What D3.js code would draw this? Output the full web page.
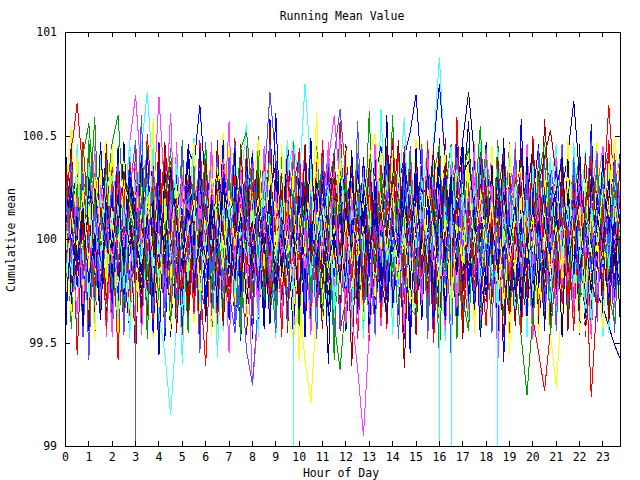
<!DOCTYPE html>
<html>
<head>
<meta charset="utf-8">
<script src="https://cdn.jsdelivr.net/npm/d3@7"></script>
<style>
body { margin: 0; background: #fff; }
text { font-family: "DejaVu Sans Mono", monospace; font-size: 11.5px; fill: #000; }
</style>
</head>
<body>
<svg id="chart"></svg>
<script>
var hourTicks = [0,1,2,3,4,5,6,7,8,9,10,11,12,13,14,15,16,17,18,19,20,21,22,23];
var meanTicks = [99, 99.5, 100, 100.5, 101];
var lineColors = ['#ff0000','#00a000','#0000ff','#ff40ff','#40ffff','#a00000','#ffff00','#0000a0','#5050ff'];

// one value per quarter hour, as offset from 100 in hundredths (-10000 = reading of 0)
var red1 = [18,42,66,31,-8,22,-14,9,35,-3,-27,6,
  24,-11,13,-30,-6,17,38,2,-19,28,7,-22,
  -35,4,26,-9,14,-28,-2,33,11,-17,21,40,
  3,-24,15,-38,-12,8,29,-5,19,-21,36,12,
  -7,25,-18,4,-33,16,37,-1,22,-26,-8,30,
  9,-15,27,-20,-39,1,18,-11,34,5,-23,14,
  32,-6,20,43,10,-19,7,-30,24,-2,-36,11,
  -13,21,3,36,-9,-25,15,-4,28,44,6,-17];
var green1 = [-22,8,-5,30,12,-16,24,-31,3,19,-9,27,
  -4,-29,10,-41,6,23,-13,35,-8,14,-26,2,
  31,7,-18,25,-3,-34,12,-10,28,-21,4,-37,
  -6,20,-15,33,9,-24,17,-2,26,-12,-40,-63,
  -28,5,-19,22,-7,13,-32,1,29,-14,18,-4,
  -23,11,-36,6,24,-9,35,-17,2,-30,15,-1,
  27,-12,4,-25,19,38,-6,14,-20,8,-33,10,
  23,-3,37,12,-15,26,-28,0,17,-10,31,-19];
var blue1 = [33,-2,21,-19,8,-30,16,40,-7,25,-14,4,
  28,-9,13,-36,-5,19,-22,30,11,44,36,65,
  24,-13,9,-27,17,-41,3,22,-6,31,-18,7,
  -11,26,-3,14,-33,5,-20,29,1,-16,34,10,
  -24,12,-8,39,2,-15,23,-29,6,18,-4,32,
  15,-21,7,-37,27,-10,20,-3,-26,9,-12,35,
  -5,16,-31,8,-19,24,1,37,-14,11,-25,3,
  19,-8,30,-17,5,-28,13,22,-9,38,14,-6];
var magenta1 = [-12,15,2,26,-20,7,-33,19,-4,31,12,47,
  70,28,41,16,69,22,-6,13,-27,4,-15,21,
  -9,18,-30,6,-1,29,-17,24,-8,11,-35,3,
  25,-13,8,-26,17,-39,4,32,-10,14,-22,0,
  -16,27,-5,20,-29,9,-3,36,15,-18,6,-31,
  -20,12,-7,34,-14,3,-40,18,-2,26,-11,9,
  -27,5,21,-9,39,13,-16,30,-23,2,17,-6,
  11,-24,7,-13,28,-1,20,43,-5,16,-29,8];
var cyan1 = [4,-19,13,-28,21,6,-11,27,-24,9,-3,32,
  16,45,71,30,-2,18,-21,7,-34,24,3,-15,
  11,-26,19,-8,35,2,-17,28,-5,-31,14,-9,
  22,-4,30,48,27,75,36,5,-12,20,-27,13,
  29,-8,16,-23,1,-35,10,25,-14,6,-30,19,
  -3,24,12,46,88,33,-9,17,-25,8,-16,28,
  14,-20,3,-37,21,-6,34,9,-13,26,-22,1,
  18,-7,31,-18,5,-29,15,-2,37,10,-11,-24];
var darkred1 = [16,-9,29,-4,11,-27,3,22,-15,34,7,-20,
  -6,-31,12,-17,24,1,19,-12,30,-36,-2,15,
  26,-5,37,8,-22,14,-28,6,-10,21,2,-33,
  -18,9,-3,27,40,-7,16,-24,5,-14,23,11,
  -1,-25,18,-38,7,-13,28,-4,20,-19,-32,3,
  13,31,-6,17,-28,4,-15,25,39,-2,10,-23,
  -30,6,-12,24,-5,15,-21,-37,2,-9,20,33,
  8,-16,26,-11,19,35,-3,12,-26,-8,4,-19];
var yellow1 = [-7,20,1,33,-12,9,-25,17,39,-4,28,-16,
  5,-30,14,-21,26,-3,36,11,-18,7,-9,23,
  2,45,19,52,6,-14,27,-24,10,37,-7,15,
  -20,4,-36,-48,-30,-58,-79,-33,-11,18,-2,29,
  40,-5,16,-27,8,-19,24,3,-13,30,-34,6,
  -15,22,35,9,47,-8,13,-26,4,20,-3,31,
  -11,7,-32,17,-4,26,38,-10,12,-22,3,-29,
  16,-6,27,-13,2,-35,11,21,-17,8,34,-1];
var darkblue1 = [21,-8,12,-29,4,-37,15,-2,30,-14,7,24,
  -10,17,-3,38,9,-20,26,-31,1,14,-6,33,
  11,-23,5,-35,18,-12,29,-1,22,-9,3,-26,
  -14,19,2,31,-7,24,-18,9,-29,36,13,28,
  -2,-17,20,-6,14,-25,7,32,-12,-30,4,-10,
  16,-3,27,-15,8,-21,34,22,48,71,40,10,
  -6,25,-19,3,-33,17,0,29,-11,6,-24,13,
  -8,24,41,67,30,2,19,-14,11,-5,26,7];
var lightblue1 = [-16,9,-4,27,3,-21,14,-30,6,19,-8,12,
  -10000,-12,21,-25,10,-2,32,7,-17,24,-28,1,
  15,-7,30,5,-19,26,-11,2,-33,18,9,-3,
  23,-14,4,-31,13,-5,35,-20,8,-12,20,-38,
  6,28,-9,17,-24,1,11,-16,25,39,-4,14,
  -19,3,-27,10,22,-13,7,-34,16,-1,29,-8,
  31,-6,18,-22,2,12,-3,37,-15,21,-9,-26,
  4,-18,26,-7,15,-30,9,-11,23,-2,17,33];
var red2 = [-26,11,-7,24,-19,3,-34,16,1,28,-10,36,
  8,-21,19,-4,30,-15,5,-27,12,-40,2,-13,
  22,-3,14,-25,7,-9,26,-16,38,4,-20,10,
  -31,0,17,-12,29,-6,21,-35,9,-2,24,13,
  35,-11,6,-28,18,2,-17,27,-5,15,-33,8,
  20,-4,37,11,-23,14,-7,-30,5,25,-12,3,
  -18,16,-1,31,-9,22,-26,6,-38,-55,-73,-44,
  -14,19,-3,28,7,-22,12,-8,33,-16,4,-29];
var green2 = [27,-6,15,-20,4,32,-11,21,47,60,13,-8,
  18,-25,7,-14,24,-2,35,10,-29,3,-17,22,
  -5,30,-12,16,-34,6,-21,1,26,-9,12,-27,
  -3,19,-16,33,8,-24,14,-7,28,-36,5,17,
  -10,23,-30,2,-41,11,-4,29,-15,9,-22,20,
  6,-13,36,16,-5,25,-18,3,31,44,14,55,
  0,21,-9,12,-31,-18,-47,-75,-36,9,-14,25,
  -2,28,-11,7,-24,15,30,-6,19,-27,-40,4];
var blue2 = [-32,7,-15,22,-3,29,-26,13,2,-18,31,-8,
  14,-20,6,-45,18,-11,25,-1,9,-34,16,-23,
  3,27,-9,38,11,-16,4,-30,20,35,-5,12,
  -22,8,-13,19,-2,30,-27,1,-37,15,-7,24,
  10,36,-4,21,-18,5,-28,17,-6,26,40,52,
  70,31,12,44,75,38,-3,20,-16,6,-29,11,
  28,-10,15,-24,2,-35,9,-12,23,-1,17,-20,
  5,-17,33,10,-6,25,-21,0,-13,29,-4,14];
var magenta2 = [19,-14,8,-27,1,24,-9,33,6,-20,15,-31,
  -3,22,-17,11,28,-6,13,-36,4,-12,25,9,
  30,-8,18,-23,2,27,-14,12,-71,-35,5,-19,
  14,-2,29,-11,7,-32,20,-5,17,38,60,26,
  -4,16,-21,3,-30,13,-7,31,10,-15,24,-9,
  12,-26,37,5,-12,19,-2,-34,8,21,-17,28,
  -7,15,-29,4,26,-10,35,1,-19,11,-33,6,
  20,-5,30,9,-22,14,-38,-3,18,-11,27,40];
var cyan2 = [9,-17,30,4,-22,16,-5,25,-13,2,19,-28,
  -7,14,-24,6,-36,-55,-85,-41,-8,21,-3,12,
  27,-10,18,-29,5,-16,33,1,-20,23,-6,15,
  -25,8,-12,-10000,3,-19,26,-2,13,-31,7,-14,
  20,-4,32,-9,16,-27,2,24,-11,37,-3,10,
  -21,6,-15,28,-1,17,-10000,-8,22,-13,9,31,
  -16,4,-33,12,-6,29,14,-23,1,19,-9,-30,
  11,-2,25,-18,7,-39,15,3,-12,27,-7,18];
var darkred2 = [-9,23,5,-18,31,-6,14,-29,2,20,-12,8,
  -24,10,-37,4,-15,26,1,17,-21,7,-32,13,
  19,-3,28,-14,-31,6,-8,24,11,39,-5,16,
  -11,21,-26,9,-2,32,15,-19,3,-35,12,-7,
  25,-1,18,-23,7,-29,13,-10,30,-4,20,-33,
  2,-16,27,8,41,-6,16,-22,4,-13,24,10,
  -5,29,-18,11,-2,22,37,-9,14,26,40,53,
  31,-4,17,-20,6,-12,-34,3,-25,9,-7,22];
var yellow2 = [13,-10,26,-3,17,-22,35,48,8,-15,20,-6,
  -27,4,-12,23,-1,30,-18,9,-38,14,-5,27,
  7,-19,2,28,-13,21,-4,41,12,-24,6,-9,
  18,-30,25,1,-16,33,-7,11,-23,5,16,38,
  -2,24,-11,8,-28,15,-5,30,-19,3,-37,12,
  21,-6,29,-14,10,-25,1,34,17,39,6,24,
  -13,19,-3,-31,8,-17,26,13,-6,22,-20,-45,
  -71,-30,4,-16,23,9,-8,31,-2,-21,14,2];
var darkblue2 = [-13,17,-2,28,-21,6,-34,12,1,25,-9,19,
  7,-26,14,-5,32,-15,23,-3,10,-28,4,-11,
  21,-1,35,9,-17,13,-24,27,-6,18,-12,30,
  -30,2,-19,16,-3,26,-10,8,-36,11,-4,22,
  33,-7,15,-22,4,-39,10,-14,20,-2,28,-16,
  -8,24,-25,13,36,5,29,-11,3,-20,16,-1,
  18,-12,31,-6,9,-27,22,-4,14,-19,7,-15,
  10,-21,27,4,-9,15,-14,-26,-33,-42,-51,-58];
var lightblue2 = [22,-11,35,6,-19,13,-28,3,26,-7,16,-24,
  -4,29,-15,9,21,-33,1,18,-10,24,-2,12,
  -20,7,-36,15,-25,-45,-12,-54,-70,-30,27,71,
  38,14,-9,20,-27,4,-16,31,11,-5,23,-18,
  -29,6,-13,25,2,-21,10,-37,17,-3,32,-8,
  12,-24,30,-6,16,-14,27,40,3,-19,9,-32,
  1,21,-8,34,-17,5,-26,13,-4,19,-11,36,
  15,-2,24,-30,7,-12,20,33,-5,11,-23,2];
var red3 = [37,-4,19,-16,8,-29,12,25,-7,32,2,-21,
  -13,20,-6,30,11,42,-9,16,-25,5,-35,10,
  -1,26,-18,7,-30,-3,17,-12,28,-22,9,-8,
  14,-27,33,4,-10,21,-33,3,18,-6,29,-15,
  5,-20,12,-31,24,-2,36,15,49,8,-13,22,
  -17,6,-28,19,-4,27,-11,1,-39,13,-24,16,
  26,-8,34,10,-19,3,-23,14,-1,30,-9,20,
  -14,11,-27,24,2,-10,-76,-28,18,65,21,-5];
var green3 = [2,27,-8,41,56,19,-3,12,-24,6,-15,22,
  -6,30,-18,4,-29,10,-40,15,-2,25,-11,8,
  16,-21,3,-9,28,13,44,52,20,-7,11,-30,
  -22,5,-12,24,-4,17,-27,9,-35,1,19,-10,
  27,-3,14,-26,6,-15,31,7,-18,22,-5,-33,
  -37,10,-19,21,-8,26,-13,2,-29,-44,12,-6,
  18,-2,33,11,-14,6,-23,17,4,29,47,15,
  -9,23,-20,8,-31,14,-1,36,5,-17,26,-12];
var blue3 = [-38,6,-23,15,-5,28,-12,3,-31,20,-2,34,
  11,-16,24,-9,17,-27,7,31,-4,14,-21,1,
  -14,22,-6,37,12,-19,26,-3,9,-25,16,-7,
  29,-10,4,-32,21,-41,8,-15,33,2,-18,13,
  -24,10,-3,27,-12,18,-30,6,23,-8,38,14,
  -1,25,-17,9,-6,32,-11,19,-22,4,-34,7,
  20,-5,30,-14,3,-26,11,-37,16,-2,24,-9,
  35,-3,12,-19,27,8,-15,21,-6,-29,10,-13];
var magenta3 = [12,-6,21,-31,4,-15,26,9,-12,17,-3,30,
  36,-2,14,-19,8,-28,19,-7,31,5,-16,23,
  -11,27,-4,39,15,-9,22,-24,3,-35,10,-17,
  24,-8,13,-22,6,-14,29,1,18,-12,34,-26,
  2,-37,-62,-95,-44,-18,9,-6,25,-13,16,-2,
  -29,14,-7,26,3,-20,11,-33,19,-4,30,8,
  42,17,-9,28,-15,5,-25,13,-1,22,-18,7,
  -32,4,-20,15,26,-8,12,-27,6,19,-5,29];
var cyan3 = [-19,10,-5,24,-28,7,-14,31,-2,18,-24,13,
  6,-12,27,-17,3,22,-9,35,1,-20,14,-31,
  8,-3,29,-13,16,-26,5,-8,21,-15,33,2,
  -11,19,-30,4,-6,25,-18,11,-1,28,-36,-7,
  -23,14,-2,30,9,-17,20,-10,3,-25,15,26,
  -4,23,-13,7,-10000,12,-6,34,17,-9,26,-21,
  5,-16,-10000,11,-3,27,-12,19,-28,2,-19,9,
  30,-7,16,-22,4,-33,13,-1,24,-14,20,3];
var darkred3 = [39,8,-13,22,-6,-30,15,-2,27,-18,33,11,
  -9,20,-24,6,-14,25,2,-19,13,-37,9,-4,
  17,-10,31,3,-23,12,-5,28,-12,21,-1,-27,
  -15,7,-34,18,-3,26,-11,4,-21,14,30,-8,
  23,-6,12,-28,5,-16,19,-2,32,10,-20,1,
  -31,9,-14,24,2,37,-7,16,-26,5,-12,27,
  13,-1,22,-18,-36,7,-9,29,4,15,-23,11,
  -4,25,-16,8,-27,19,34,3,-10,21,-7,14];
var yellow3 = [-29,12,-4,23,-15,30,6,-20,9,-7,26,17,
  3,-18,21,-9,-33,14,-2,27,-12,5,19,-25,
  -6,31,8,-14,24,-3,15,-29,1,20,-10,36,
  11,-22,4,-37,13,-7,29,-1,18,-16,6,-27,
  9,-12,28,14,40,51,17,-5,23,-19,2,-31,
  16,-8,25,3,-21,10,-35,7,-13,32,-4,20,
  -2,18,-26,5,-11,22,35,-9,12,-28,4,-15,
  7,-19,30,1,16,-24,11,-6,27,13,50,21];
var darkblue3 = [7,26,-10,14,-21,3,-38,18,-5,22,-13,31,
  2,-17,12,-28,19,-6,35,9,-14,25,-23,4,
  -9,20,-3,30,6,-18,13,-31,1,16,-7,24,
  -25,11,-16,5,-34,21,-2,28,10,-12,3,-20,
  15,-4,33,8,-11,26,-19,-36,6,-9,17,-1,
  29,-14,2,-24,12,-7,20,-3,31,38,14,-10,
  -22,6,-12,23,-4,17,-27,1,-33,9,-16,13,
  24,39,-7,19,-15,4,-26,10,-2,28,-11,-21];
var lightblue3 = [24,-7,16,-19,3,-32,11,-4,28,-12,20,-25,
  -3,19,-11,34,8,-21,14,-30,2,23,-9,29,
  13,-16,5,-26,-1,18,-8,27,37,-5,15,-20,
  -14,9,-28,22,-6,12,-31,4,17,26,41,63,
  30,-2,21,-15,-36,7,-11,24,-3,13,-27,6,
  -18,10,-5,28,1,-22,16,-9,33,-1,19,-13,
  8,-24,2,-17,25,11,-6,31,-20,4,-34,14,
  -10,21,-3,17,-26,5,-15,12,27,-8,35,16];
var red4 = [-41,29,-12,47,5,-33,38,-20,14,-58,22,-6,
  35,-27,51,8,-44,17,-9,40,-31,3,46,-18,
  -61,11,-25,33,-4,49,-37,19,-14,42,-28,6,
  27,-46,13,-21,44,-8,31,-39,2,37,-16,57,
  -11,24,-48,9,36,-30,15,-43,28,-3,45,-24,
  39,-7,21,-50,12,34,-19,38,-36,7,-27,30,
  -15,43,-32,18,-45,4,37,-22,50,-10,26,-41,
  16,-34,41,-2,29,-47,10,35,-26,48,-13,23];
var green4 = [44,-19,26,-38,9,59,-14,32,-47,17,-3,39,
  -29,6,45,-24,13,-42,30,-8,48,-33,20,-11,
  37,-46,4,28,-17,43,-35,10,-26,50,-5,22,
  -40,15,-28,47,-2,34,-40,19,36,-13,41,-31,
  8,-44,25,-9,62,-21,12,-38,30,2,-47,27,
  -16,40,-33,14,-57,23,46,-7,33,-28,11,-43,
  31,-12,48,-37,5,29,-23,42,-45,16,38,-4,
  -35,21,-10,44,-30,7,-48,26,13,-39,34,-20];
var blue4 = [-33,48,-6,25,-44,14,37,-27,3,42,-15,-44,
  20,-38,31,-12,47,-25,9,-41,35,-4,28,-46,
  12,39,-30,45,-18,6,-49,24,-7,33,-36,58,
  -22,5,41,-34,16,-47,27,-10,44,-29,11,-39,
  36,-14,22,-43,41,1,-31,38,-20,15,-48,26,
  -5,43,-26,11,-37,32,-13,46,-42,19,40,-24,
  47,-9,30,-59,18,-28,42,-3,25,-45,8,35,
  -17,28,-40,4,37,-21,56,-32,14,-6,43,-37];
var magenta4 = [27,-40,12,-22,46,-8,31,-47,19,38,-29,5,
  -45,23,-14,41,-35,9,61,-19,26,-42,15,36,
  -6,47,-31,17,-55,33,2,-24,43,-11,29,-38,
  14,-27,39,-48,8,45,-16,30,-36,21,-3,49,
  -30,18,-44,35,-10,26,-42,11,40,-23,6,-41,
  33,-12,48,-28,20,-46,37,-4,15,-34,44,-18,
  10,42,-37,24,-15,47,-26,3,-48,32,-9,25,
  -43,16,34,-20,44,-7,22,-39,28,2,-33,45];
var cyan4 = [-14,36,-47,20,5,-31,43,-18,29,-42,11,48,
  -25,14,-39,32,-7,46,-28,17,-60,24,39,-10,
  42,-21,8,-44,35,-13,27,56,-34,6,-26,18,
  -48,30,-5,22,-37,12,44,-23,3,-40,34,-15,
  25,-46,38,-9,16,-33,63,-2,-27,41,-19,9,
  -36,21,45,-30,13,-49,28,-12,37,-24,4,47,
  -8,33,-41,15,40,-20,2,-45,31,19,-35,23,
  46,-16,26,-38,7,43,-29,12,-47,35,-1,-30];
var darkred4 = [30,-25,44,-11,18,-48,26,7,-37,40,-19,13,
  -57,34,-3,23,-41,47,10,-29,36,-15,21,-44,
  5,-32,48,-20,29,-9,39,-46,15,31,-27,43,
  -17,24,-38,11,42,-28,19,-6,-43,33,2,-24,
  46,-13,27,-40,4,37,-22,45,-31,12,-62,20,
  -4,41,-35,16,-26,49,-12,30,-45,25,8,-33,
  38,-21,9,-47,32,-2,44,-36,17,-28,58,14,
  -39,22,-8,35,-23,11,-42,28,6,-34,39,-12];
var yellow4 = [22,55,-17,34,-39,8,45,-26,16,-45,30,-3,
  41,-22,18,-48,27,4,-34,43,-13,36,-40,12,
  -28,36,-45,21,1,-36,47,-16,32,-7,44,-30,
  19,-42,30,-14,39,-24,7,61,-32,15,-46,26,
  -37,11,46,-19,28,-47,21,-8,42,-29,34,-13,
  48,-27,10,37,-41,18,-5,39,-21,44,-37,3,
  -23,45,-12,29,-56,24,36,-17,8,41,-30,17,
  5,-36,43,-27,14,-44,31,47,-9,23,44,-15];
var darkblue4 = [-46,17,33,-29,42,-13,6,-40,28,-20,47,-8,
  31,-43,12,38,-17,25,-47,14,-5,44,-26,20,
  -34,9,-23,46,-38,18,-11,35,-48,27,3,-41,
  40,-18,48,-7,23,-44,33,-27,16,-60,29,8,
  -21,37,-36,14,-2,43,-30,24,47,-16,32,-45,
  13,-39,26,-10,49,-32,4,-43,21,57,-18,36,
  -28,6,-47,38,-14,27,-40,19,45,-24,11,-37,
  24,-11,39,-33,9,-42,26,15,-38,31,-22,47];
var lightblue4 = [38,-12,24,-47,15,31,-22,44,-37,8,-28,40,
  -19,60,-33,7,-44,28,16,-38,45,-24,10,-55,
  26,-15,41,-29,13,47,-43,2,34,-21,43,-10,
  -45,21,-4,37,-26,10,46,-35,18,42,-48,27,
  12,-30,57,-18,33,-41,7,38,-25,16,-38,45,
  -7,35,-48,22,-12,40,-29,9,-46,31,14,-22,
  43,-36,17,-9,47,-27,12,-44,26,-13,39,-31,
  8,46,-24,30,-40,19,-15,42,-30,5,-45,21];
var red5 = [-20,33,-56,11,40,-26,17,-43,35,-8,25,-37,
  46,-10,24,-39,5,42,-30,20,-46,31,-14,48,
  -3,28,-41,14,-27,36,-18,45,-33,8,39,-25,
  34,-47,19,-2,43,-35,12,-22,48,-11,27,-44,
  -29,41,-7,30,-49,21,-38,16,-4,44,-31,10,
  25,-18,47,-34,3,38,-24,59,-15,-40,22,-6,
  -42,13,-27,46,-20,35,-45,9,30,-37,18,-12,
  37,-31,6,-44,26,-16,44,-35,14,-23,41,0];
var green5 = [15,-43,27,-10,48,-29,4,36,-21,45,-38,19,
  -9,37,-48,25,-22,13,44,-33,8,-45,31,-3,
  47,-24,16,-37,30,-6,-47,23,-12,40,-29,11,
  -36,43,-15,6,-42,28,-26,45,-3,22,-58,33,
  20,-8,39,-45,14,-21,34,-13,60,-34,7,41,
  -27,12,-40,30,46,-16,23,-48,10,35,-25,17,
  44,-19,5,33,-35,44,-11,27,-41,3,24,-46,
  -13,31,-38,18,42,-27,9,-39,35,-18,13,-33];
var blue5 = [-48,24,10,-36,29,-17,47,-6,21,-32,41,-23,
  9,-35,43,-15,36,-49,18,3,-42,27,-20,44,
  -31,19,-8,48,-39,26,-21,12,42,-45,14,-4,
  61,-12,33,-28,1,41,-37,22,-16,35,-7,29,
  -44,6,-25,40,-15,30,45,-27,5,-39,23,-55,
  32,-2,19,-43,35,-11,28,-36,43,-20,9,-30,
  16,-45,37,-23,11,-40,58,-14,20,46,-32,4,
  -26,40,-13,27,-46,33,-4,18,-37,12,-28,37];
var magenta5 = [43,-5,-36,20,-13,45,-30,9,-47,33,12,-21,
  28,-46,5,34,-27,11,-40,47,-18,23,-36,15,
  -14,41,-27,3,57,-20,36,-39,7,-31,45,-12,
  29,-38,16,44,-22,5,-46,31,-9,47,-25,13,
  -41,20,-4,33,-37,48,-14,2,-29,25,-45,36,
  6,-31,42,-18,24,-44,9,-26,37,-6,46,-39,
  -20,27,-60,14,-5,38,-32,46,-16,30,-43,8,
  40,-22,18,-35,33,-9,-47,24,45,-29,16,-40];
var cyan5 = [11,-30,46,-14,37,-45,22,-7,32,-39,19,-48,
  37,-5,-29,45,-19,30,-11,41,-37,8,49,-27,
  -2,33,-57,17,-24,41,10,-32,28,-47,21,38,
  -24,12,48,-36,25,-15,36,-42,14,5,-33,44,
  3,-35,19,-48,41,13,-23,31,-46,20,59,-16,
  -41,29,-6,38,-32,15,45,-21,4,-39,26,11,
  35,-28,44,-3,22,-36,13,-47,37,-15,2,40,
  -37,8,-20,47,-11,26,-41,17,33,-45,28,-9];
var darkred5 = [-35,45,-22,8,-41,27,-15,46,-26,13,-44,30,
  17,-37,29,-6,44,-20,33,-45,6,-30,40,-16,
  39,-9,22,-42,11,-29,46,-4,-37,26,-19,55,
  -10,32,-45,20,-30,46,-8,38,-24,9,43,-35,
  28,-61,15,-23,39,-5,26,-41,13,48,-20,34,
  -46,18,-12,45,-38,8,-29,36,-48,16,-3,42,
  21,-33,40,-17,2,-42,28,-24,47,-8,-39,19,
  -27,37,-44,12,-34,42,-19,-33,22,-40,8,36];
var yellow5 = [6,-37,41,-25,17,-48,34,-12,46,-20,38,-33,
  -42,26,-8,58,-31,20,-44,12,35,-18,47,-36,
  21,-46,35,-5,44,-33,17,-42,24,48,-14,29,
  -8,46,-23,34,-59,19,-2,43,-39,27,-17,37,
  44,-24,2,-39,20,-28,42,-10,36,-43,15,-27,
  -33,48,-20,26,-9,43,-37,20,-11,38,-45,23,
  13,-40,29,-32,46,-14,21,-38,7,-47,33,-19,
  31,-13,48,-6,-45,35,-24,4,-43,37,20,-35];
var darkblue5 = [47,-31,16,-42,30,-3,-39,25,-18,44,-27,9,
  -16,41,-25,19,-56,36,-7,30,-28,46,-3,33,
  -40,15,-34,27,-12,44,-28,39,-19,10,-43,24,
  36,-29,7,-46,32,-21,49,-14,27,-37,20,-6,
  -18,43,-30,26,-45,11,-20,60,-33,4,38,-25,
  44,-9,34,-27,17,-39,31,-17,48,-30,21,-47,
  -12,36,-22,49,-29,7,-36,40,-23,33,-44,26,
  18,-47,23,-16,46,-38,30,-9,41,-20,11,-42];
var lightblue5 = [-27,39,-9,32,-58,21,-35,14,-29,37,-46,23,
  48,-15,32,-36,17,-45,26,-21,41,-11,35,-30,
  30,-37,13,-19,40,-40,6,33,-44,19,-9,46,
  -29,18,-42,9,38,-31,22,-48,40,-2,31,-43,
  33,-19,42,-35,7,-46,35,-23,19,-48,28,2,
  -25,46,-37,11,-21,27,-56,38,-8,29,-33,41,
  2,-45,35,-26,16,41,-18,27,-38,44,-25,30,
  -44,26,-31,40,-20,13,48,-40,21,-17,42,-28];

var runs = [red1, green1, blue1, magenta1, cyan1, darkred1, yellow1, darkblue1, lightblue1,
            red4, green4, blue4, magenta4, cyan4, darkred4, yellow4, darkblue4, lightblue4,
            red2, green2, blue2, magenta2, cyan2, darkred2, yellow2, darkblue2, lightblue2,
            red5, green5, blue5, magenta5, cyan5, darkred5, yellow5, darkblue5, lightblue5,
            red3, green3, blue3, magenta3, cyan3, darkred3, yellow3, darkblue3, lightblue3];
var hours = d3.range(96).map(function(i) { return i / 4; });
var dropout = -10000;

var svg = d3.select('#chart').attr('width', 640).attr('height', 480);
var xscale = d3.scaleLinear().domain([0, 23.75]).range([65, 620]);
var yscale = d3.scaleLinear().domain([99, 101]).range([446, 32]);
var toMean = function(d) { return 100 + d / 100; };

svg.append('clipPath').attr('id', 'plotclip').append('rect')
    .attr('x', 65).attr('y', 32).attr('width', 556).attr('height', 415);

var line = d3.line()
    .defined(function(d) { return d > dropout; })
    .x(function(d, i) { return xscale(hours[i]); })
    .y(function(d) { return yscale(toMean(d)); });

// a zero reading shows as a plunge straight through the bottom of the plot
var plunges = [];
runs.forEach(function(run, k) {
    run.forEach(function(d, i) {
        if (d <= dropout) {
            plunges.push({k: k, hour: hours[i], from: toMean(run[i - 1]), to: toMean(d)});
        }
    });
});

var plot = svg.append('g').attr('clip-path', 'url(#plotclip)')
    .append('g').attr('transform', 'translate(0.5,0.5)');

plot.selectAll('path').data(runs).enter().append('path')
    .attr('d', line)
    .attr('fill', 'none')
    .attr('stroke', function(d, i) { return lineColors[i % lineColors.length]; })
    .attr('stroke-width', 1)
    .attr('shape-rendering', 'crispEdges');

plot.selectAll('line.plunge').data(plunges).enter().append('line')
    .attr('class', 'plunge')
    .attr('x1', function(d) { return xscale(d.hour); })
    .attr('x2', function(d) { return xscale(d.hour); })
    .attr('y1', function(d) { return yscale(d.from); })
    .attr('y2', function(d) { return Math.min(yscale(d.to), 600); })
    .attr('stroke', function(d) { return lineColors[d.k % lineColors.length]; })
    .attr('shape-rendering', 'crispEdges');

// border + inward ticks on all four sides
svg.append('rect').attr('x', 65.5).attr('y', 32.5).attr('width', 555).attr('height', 414)
    .attr('fill', 'none').attr('stroke', '#000').attr('shape-rendering', 'crispEdges');

var styleAxis = function(g) {
    g.select('.domain').remove();
    g.selectAll('line').attr('stroke', '#000').attr('shape-rendering', 'crispEdges');
    g.attr('font-family', null).attr('font-size', null);
};

svg.append('g').attr('transform', 'translate(0,446)')
    .call(d3.axisBottom(xscale).tickValues(hourTicks).tickSize(-5).tickPadding(7).tickFormat(d3.format('d')))
    .call(styleAxis);
svg.append('g').attr('transform', 'translate(0,32)')
    .call(d3.axisTop(xscale).tickValues(hourTicks).tickSize(-5).tickFormat(''))
    .call(styleAxis);
svg.append('g').attr('transform', 'translate(65,0)')
    .call(d3.axisLeft(yscale).tickValues(meanTicks).tickSize(-5).tickPadding(8).tickFormat(function(d) { return String(d); }))
    .call(styleAxis);
svg.append('g').attr('transform', 'translate(620,0)')
    .call(d3.axisRight(yscale).tickValues(meanTicks).tickSize(-5).tickFormat(''))
    .call(styleAxis);

svg.append('text').attr('x', 342).attr('y', 19.5).attr('text-anchor', 'middle').text('Running Mean Value');
svg.append('text').attr('x', 341).attr('y', 477).attr('text-anchor', 'middle').text('Hour of Day');
svg.append('text').attr('transform', 'translate(15,240) rotate(-90)').attr('text-anchor', 'middle').text('Cumulative mean');
</script>
</body>
</html>
